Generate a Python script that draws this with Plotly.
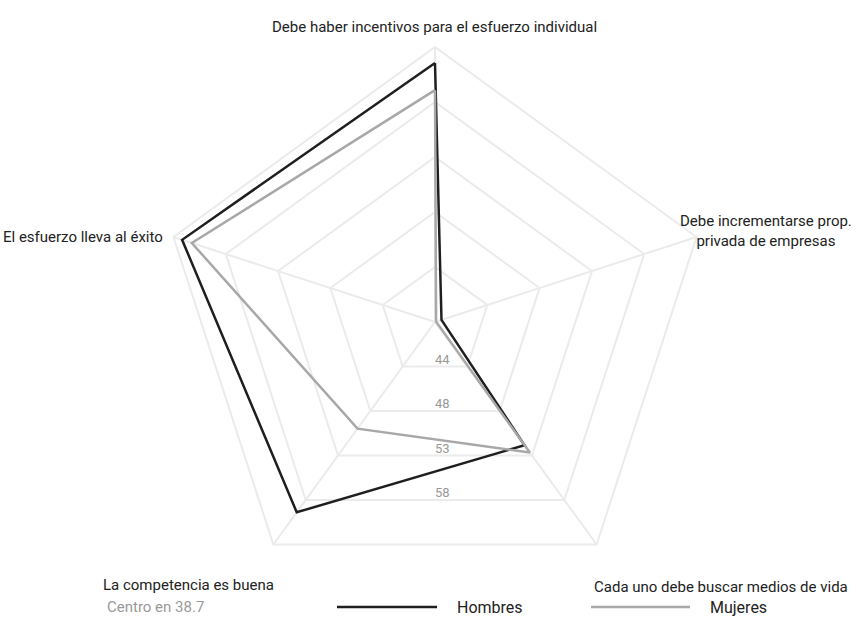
import math
import plotly.graph_objects as go

categories = [
    "Debe haber incentivos para el esfuerzo individual",
    "Debe incrementarse prop. privada de empresas",
    "Cada uno debe buscar medios de vida",
    "La competencia es buena",
    "El esfuerzo lleva al éxito",
]
hombres = [61.5, 39.3, 52.1, 59.4, 62.1]
mujeres = [59.1, 38.8, 52.9, 50.3, 61.2]
center = 38.7
outer = 62.9
radial_ticks = [43.54, 48.38, 53.22, 58.06]
radial_ticktext = ["44", "48", "53", "58"]

W, H = 861, 618
FONT = "Roboto, Liberation Sans, sans-serif"
GRID = "#ebebeb"

# polar domain in pixels (square)
cx, cy, R = 435, 322, 275
dom_x = [(cx - R) / W, (cx + R) / W]
dom_y = [1 - (cy + R) / H, 1 - (cy - R) / H]

fig = go.Figure()
fig.add_trace(go.Scatterpolar(
    r=hombres + hombres[:1],
    theta=categories + categories[:1],
    mode="lines",
    name="Hombres",
    line=dict(color="#1f1f1f", width=2.5),
))
fig.add_trace(go.Scatterpolar(
    r=mujeres + mujeres[:1],
    theta=categories + categories[:1],
    mode="lines",
    name="Mujeres",
    line=dict(color="#a8a8a8", width=2.5),
))

fig.update_layout(
    width=W,
    height=H,
    margin=dict(l=0, r=0, t=0, b=0),
    paper_bgcolor="white",
    showlegend=False,
    font=dict(family=FONT, size=15, color="#222"),
    polar=dict(
        domain=dict(x=dom_x, y=dom_y),
        bgcolor="white",
        gridshape="linear",
        radialaxis=dict(
            range=[center, outer],
            tickvals=radial_ticks,
            showticklabels=False,
            showline=False,
            ticks="",
            gridcolor=GRID,
            gridwidth=2,
        ),
        angularaxis=dict(
            rotation=90,
            direction="clockwise",
            showticklabels=False,
            ticks="",
            gridcolor=GRID,
            gridwidth=2,
            linecolor=GRID,
            linewidth=2,
        ),
    ),
)

# radial tick labels sit just above the bottom edge of each pentagon ring
k = R / (outer - center)
for t, txt in zip(radial_ticks, radial_ticktext):
    edge_y = cy + (t - center) * k * math.cos(math.radians(36))
    fig.add_annotation(
        text=txt, x=(cx - 2) / W, y=1 - (edge_y - 7) / H, xref="paper", yref="paper",
        xanchor="left", yanchor="middle", showarrow=False,
        font=dict(size=13, color="#999"),
    )

# category labels
labels = [
    (categories[0], 435, 27, "center"),
    ("Debe incrementarse prop.<br>privada de empresas", 766, 231, "center"),
    (categories[2], 721, 587, "center"),
    (categories[3], 188, 585, "center"),
    (categories[4], 165, 237, "right"),
]
for text, x, y, anchor in labels:
    fig.add_annotation(
        text=text, x=x / W, y=1 - y / H, xref="paper", yref="paper",
        xanchor=anchor, yanchor="middle", align="center", showarrow=False,
        font=dict(size=15, color="#222"),
    )

fig.add_annotation(
    text="Centro en 38.7", x=105 / W, y=1 - 607 / H, xref="paper", yref="paper",
    xanchor="left", yanchor="middle", showarrow=False, font=dict(size=15, color="#999"),
)

# legend drawn by hand for the long line samples
for name, color, x0, x1 in [("Hombres", "#1f1f1f", 337, 437), ("Mujeres", "#a8a8a8", 591, 690)]:
    fig.add_shape(
        type="line", xref="paper", yref="paper",
        x0=x0 / W, x1=x1 / W, y0=1 - 607 / H, y1=1 - 607 / H,
        line=dict(color=color, width=2.5),
    )
    fig.add_annotation(
        text=name, x=(x1 + 18) / W, y=1 - 607 / H, xref="paper", yref="paper",
        xanchor="left", yanchor="middle", showarrow=False, font=dict(size=16, color="#222"),
    )

fig.write_html(
    "out.html",
    config={"displayModeBar": False},
    post_script="document.body.style.margin='0';",
)
